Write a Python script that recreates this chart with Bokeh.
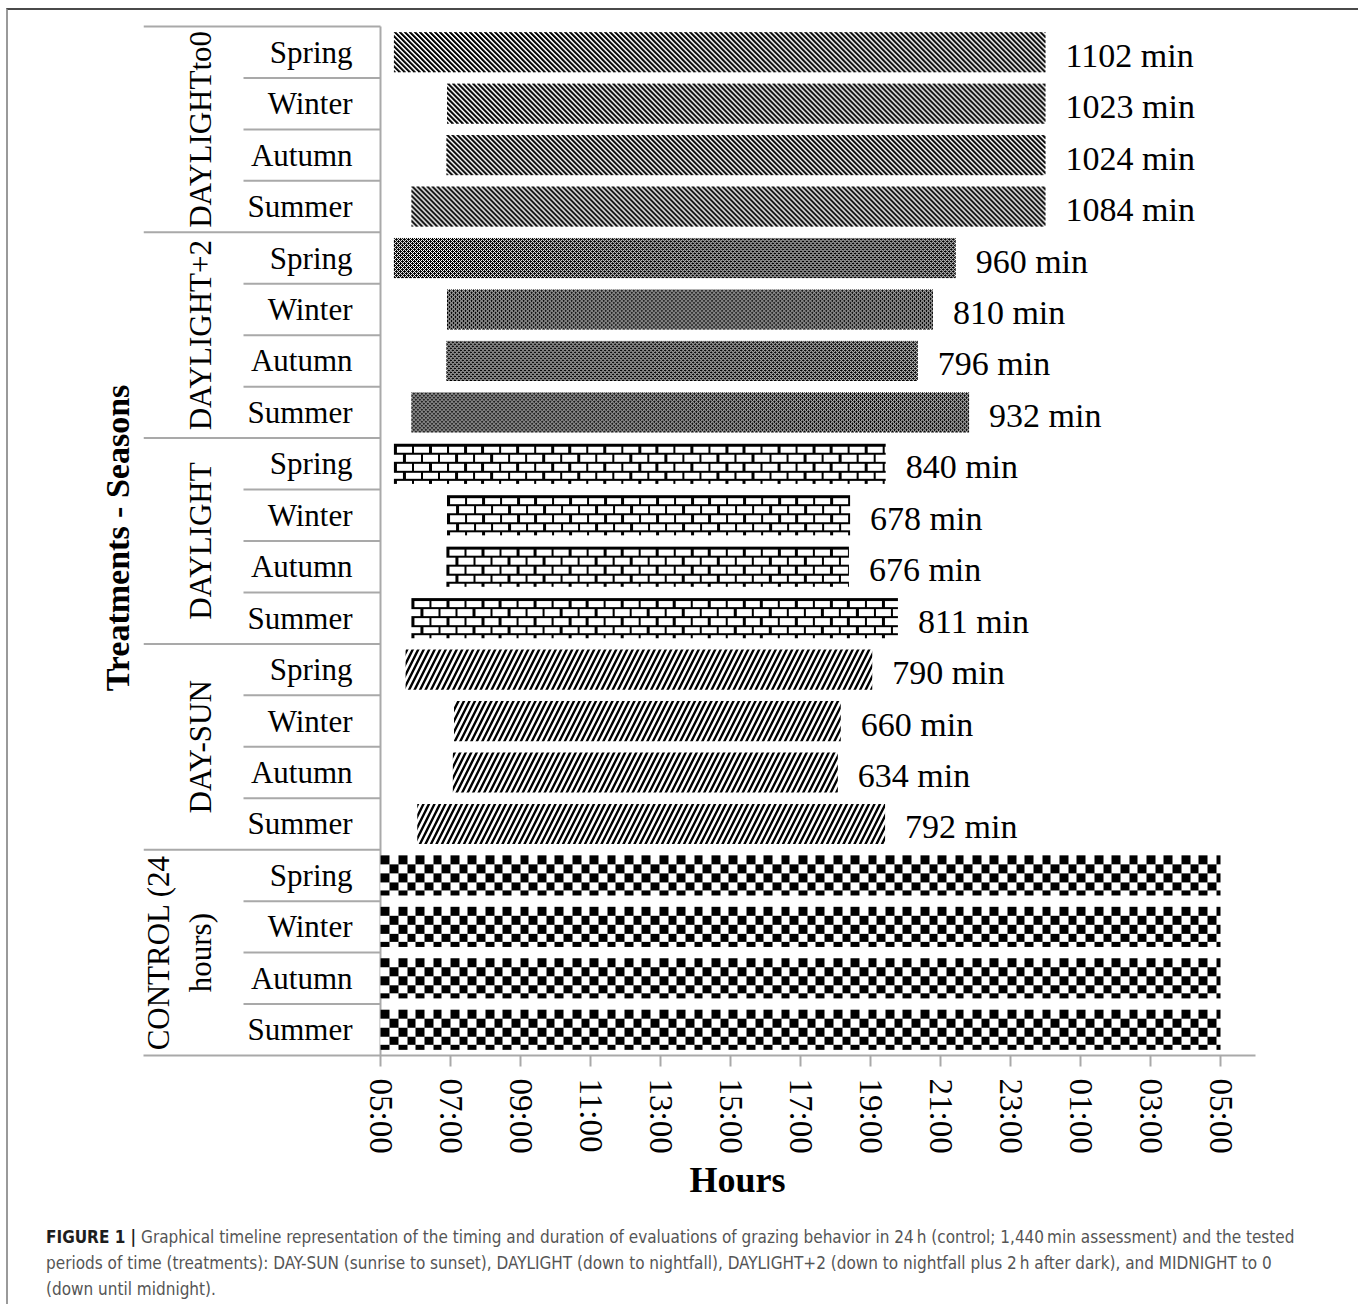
import math
import numpy as np
from bokeh.plotting import figure
from bokeh.layouts import column
from bokeh.models import Range1d, FixedTicker, ColumnDataSource, Title, Div
from bokeh.core.properties import value
from bokeh.embed import file_html
from bokeh.resources import INLINE

# ---------------- data ----------------
# treatments from bottom to top, seasons from bottom to top inside each treatment
treatments = ["CONTROL (24 hours)", "DAY-SUN", "DAYLIGHT", "DAYLIGHT+2", "DAYLIGHTto0"]
treatment_labels = ["CONTROL (24\nhours)", "DAY-SUN", "DAYLIGHT", "DAYLIGHT+2", "DAYLIGHTto0"]
seasons = ["Summer", "Autumn", "Winter", "Spring"]

control_start = ["05:00", "05:00", "05:00", "05:00"]
control_end = ["05:00", "05:00", "05:00", "05:00"]

daysun_start = ["06:03", "07:04", "07:06", "05:43"]
daysun_end = ["19:25", "18:04", "18:09", "19:03"]
daysun_min = [792, 634, 660, 790]

daylight_start = ["05:53", "06:53", "06:54", "05:23"]
daylight_end = ["19:47", "18:23", "18:25", "19:26"]
daylight_min = [811, 676, 678, 840]

daylight2_start = ["05:53", "06:53", "06:54", "05:23"]
daylight2_end = ["21:49", "20:21", "20:47", "21:26"]
daylight2_min = [932, 796, 810, 960]

daylightto0_start = ["05:53", "06:53", "06:54", "05:23"]
daylightto0_end = ["00:00", "00:00", "00:00", "00:00"]
daylightto0_min = [1084, 1024, 1023, 1102]

tick_hours = [0, 2, 4, 6, 8, 10, 12, 14, 16, 18, 20, 22, 24]
tick_labels = ["05:00", "07:00", "09:00", "11:00", "13:00", "15:00", "17:00",
               "19:00", "21:00", "23:00", "01:00", "03:00", "05:00"]

caption_bold = "FIGURE 1 |"
caption_lines = [
    "Graphical timeline representation of the timing and duration of evaluations of grazing behavior in 24\u2009h (control; 1,440\u2009min assessment) and the tested",
    "periods of time (treatments): DAY-SUN (sunrise to sunset), DAYLIGHT (down to nightfall), DAYLIGHT+2 (down to nightfall plus 2\u2009h after dark), and MIDNIGHT to 0",
    "(down until midnight).",
]

starts = [control_start, daysun_start, daylight_start, daylight2_start, daylightto0_start]
ends = [control_end, daysun_end, daylight_end, daylight2_end, daylightto0_end]
minutes = [None, daysun_min, daylight_min, daylight2_min, daylightto0_min]


def hours_after_5(t):
    h, m = map(int, t.split(":"))
    return (h + m / 60 - 5) % 24


# ---------------- geometry (page pixels -> data) ----------------
PX_H = 35.0          # pixels per hour
X0_PAGE = 380.0      # page x of 05:00
ROW_PX = 51.45       # pixels per row
Y0_PAGE = 1055.0     # page y of bottom of table
BAR_H = 0.78         # bar thickness (rows)


def px_x(px):
    return (px - X0_PAGE) / PX_H


def px_y(py):
    return (Y0_PAGE - py) / ROW_PX


# ---------------- fill textures (pixel tiles, 1 = black) ----------------
CELL = 8.7
dots_rows = ["#.#.", ".###", "#.#.", "##.#"]
dots_arr = np.array([[1.0 if c == "#" else 0.0 for c in r] for r in dots_rows])


def darkness(kind, xx, yy):
    if kind == "checker":
        return ((np.floor(xx / CELL) + np.floor(yy / CELL)) % 2 == 0).astype(float)
    if kind == "brick":
        r = np.floor(yy / CELL)
        yr = yy - np.floor(r * CELL)
        off = (r % 2) * CELL
        return ((yr < 2.5) | (((xx + off) % (2 * CELL)) < 2.5)).astype(float)
    if kind == "dots":
        return dots_arr[yy % 4, xx % 4]
    if kind == "stripes":
        k = (xx - yy) % 5
        return np.where(k < 2, 1.0, np.where(k == 2, 0.8, 0.0))
    return np.zeros_like(xx, dtype=float)


def texture_image(kind, width_h):
    w = max(1, int(round(width_h * PX_H)))
    h = int(round(BAR_H * ROW_PX))
    yy, xx = np.mgrid[0:h, 0:w]
    v = (255 * (1 - darkness(kind, xx, yy))).astype(np.uint8)
    rgba = np.empty((h, w, 4), dtype=np.uint8)
    rgba[..., 0] = v
    rgba[..., 1] = v
    rgba[..., 2] = v
    rgba[..., 3] = 255
    return rgba.view(np.uint32).reshape(h, w)[::-1].copy()


textures = {"CONTROL (24 hours)": "checker", "DAYLIGHT": "brick",
            "DAYLIGHT+2": "dots", "DAYLIGHTto0": "stripes"}
hatches = {"DAY-SUN": dict(hatch_pattern="right_diagonal_line", hatch_scale=11,
                           hatch_weight=2.4, hatch_color="black")}

n_rows = len(treatments) * len(seasons)

p = figure(width=1344, height=1200, output_backend="svg", toolbar_location=None,
           x_range=Range1d(px_x(143), px_x(1255)), y_range=Range1d(0, px_y(20)),
           min_border_left=135, min_border_right=97, min_border_top=10, min_border_bottom=155,
           background_fill_color="white", border_fill_color="white")
p.outline_line_color = None
p.xgrid.visible = False
p.ygrid.visible = False

# y axis: only its title
yax = p.yaxis[0]
yax.ticker = FixedTicker(ticks=[])
yax.axis_line_color = None
yax.major_tick_line_color = None
yax.minor_tick_line_color = None
yax.major_tick_out = 0
yax.major_label_standoff = 0
yax.major_label_text_font_size = "0px"
yax.axis_label = "Treatments - Seasons"
yax.axis_label_text_font = "Liberation Serif"
yax.axis_label_text_font_style = "bold"
yax.axis_label_text_font_size = "34px"
yax.axis_label_text_color = "black"
yax.axis_label_standoff = 8

# table lines
line_col = "#a9a9a9"
sx0, sx1, sy = [], [], []
for ti in range(len(treatments)):
    for k in range(1, len(seasons)):
        sx0.append(px_x(243)); sx1.append(0); sy.append(ti * 4 + k)
for ti in range(1, len(treatments) + 1):
    sx0.append(px_x(143)); sx1.append(0); sy.append(ti * 4)
p.segment(x0=sx0, x1=sx1, y0=sy, y1=sy, line_color=line_col, line_width=2)
p.segment(x0=[0], x1=[0], y0=[0], y1=[n_rows], line_color=line_col, line_width=2)

# bars and duration labels
for ti, t in enumerate(treatments):
    ys = [ti * 4 + si + 0.5 for si in range(len(seasons))]
    left = [hours_after_5(s) for s in starts[ti]]
    right = []
    for s, e in zip(left, ends[ti]):
        v = hours_after_5(e)
        if v <= s:
            v += 24
        right.append(v)
    widths = [r - l for l, r in zip(left, right)]
    src = ColumnDataSource(dict(y=ys, left=left, right=right,
                                bottom=[y - BAR_H / 2 for y in ys], width=widths,
                                dh=[BAR_H] * len(ys)))
    p.hbar(y="y", left="left", right="right", height=BAR_H, source=src,
           fill_color="white", line_color=None, **hatches.get(t, {}))
    if t in textures:
        src.data["image"] = [texture_image(textures[t], w) for w in widths]
        p.image_rgba(image="image", x="left", y="bottom", dw="width", dh="dh", source=src)
    if minutes[ti] is not None:
        lsrc = ColumnDataSource(dict(x=right, y=ys, text=[f"{m} min" for m in minutes[ti]]))
        p.text(x="x", y="y", text="text", source=lsrc, x_offset=20, y_offset=3,
               text_font=value("Liberation Serif"), text_font_size="34px", text_color="black",
               text_align="left", text_baseline="middle")

# season labels
season_src = ColumnDataSource(dict(
    x=[px_x(352)] * n_rows,
    y=[ti * 4 + si + 0.5 for ti in range(len(treatments)) for si in range(len(seasons))],
    text=[s for _ in treatments for s in seasons]))
p.text(x="x", y="y", text="text", source=season_src, text_font=value("Liberation Serif"),
       text_font_size="31px", text_color="black", text_align="right", text_baseline="middle")

# treatment labels
group_src = ColumnDataSource(dict(
    x=[px_x(217)] * len(treatments),
    y=[ti * 4 + 2 for ti in range(len(treatments))],
    text=treatment_labels))
p.text(x="x", y="y", text="text", source=group_src, angle=math.pi / 2,
       text_font=value("Liberation Serif"), text_font_size="31px", text_color="black",
       text_align="center", text_baseline="bottom", text_line_height=1.2)

# x axis
ax = p.xaxis[0]
ax.ticker = FixedTicker(ticks=tick_hours)
ax.major_label_overrides = {h: lab for h, lab in zip(tick_hours, tick_labels)}
ax.major_label_orientation = -math.pi / 2
ax.major_label_text_font = "Liberation Serif"
ax.major_label_text_font_size = "33px"
ax.major_label_text_color = "black"
ax.major_label_standoff = 12
ax.axis_line_color = line_col
ax.axis_line_width = 2
ax.major_tick_line_color = line_col
ax.major_tick_line_width = 2
ax.major_tick_out = 11
ax.major_tick_in = 0
ax.minor_tick_line_color = None

# x axis title
p.add_layout(Title(text="Hours", align="left", offset=546, standoff=2,
                   text_font="Liberation Serif", text_font_style="bold",
                   text_font_size="36px", text_color="black"), "below")

# caption
cap_html = (
    "<div style=\"padding:9px 0 0 33px; font-family:'DejaVu Sans Condensed',sans-serif;"
    " font-size:17px; line-height:26px; color:#555555; white-space:nowrap;\">"
    f"<b style='color:#1e1e1e'>{caption_bold}</b> {caption_lines[0]}<br>"
    f"{caption_lines[1]}<br>{caption_lines[2]}</div>"
)
caption = Div(text=cap_html, width=1344, height=92)

layout = column(p, caption, spacing=0,
                styles={"margin-left": "6px", "margin-top": "8px",
                        "border-top": "2px solid #4a4a4a", "border-left": "2px solid #9a9a9a",
                        "border-right": "2px solid #9a9a9a"})

open("out.html", "w").write(file_html(layout, INLINE))
